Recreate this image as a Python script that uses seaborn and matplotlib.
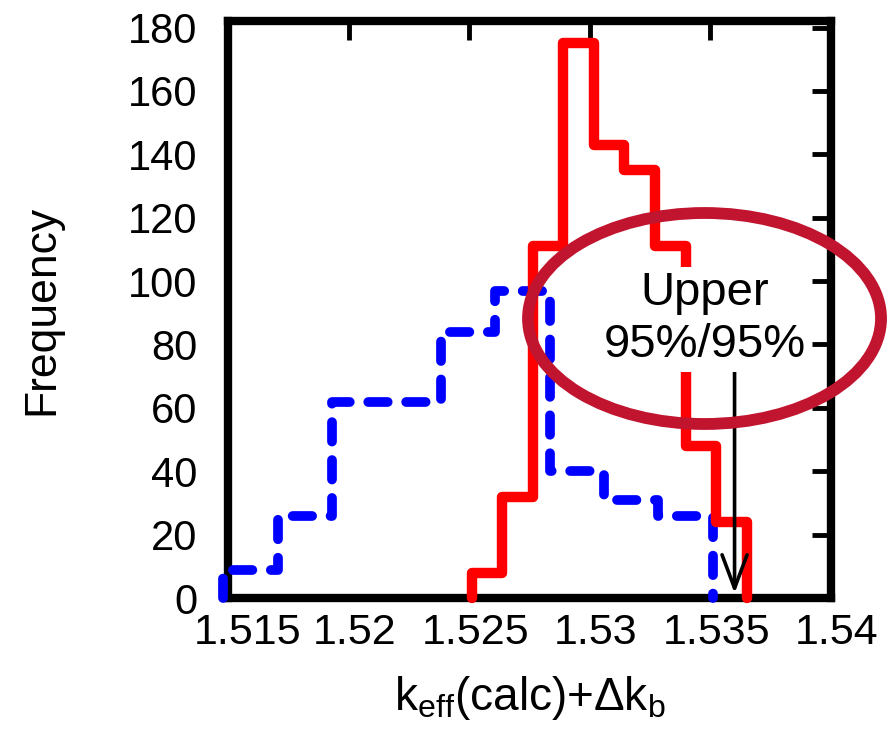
import numpy as np
import pandas as pd
import matplotlib
matplotlib.use("Agg")
import matplotlib.pyplot as plt
import matplotlib.transforms as mtransforms
import seaborn as sns
from matplotlib.patches import Ellipse

# histogram bins
blue_edges = list(np.linspace(1.5148, 1.5351, 10))
blue_counts = [9, 26, 62, 62, 84, 97, 40, 31, 26]

red_edges = list(np.linspace(1.5251, 1.5365, 10))
red_counts = [8, 32, 111, 175, 143, 135, 111, 48, 24]

upper_limit = 1.5360
x_ticks = [1.515, 1.52, 1.525, 1.53, 1.535, 1.54]
x_tick_labels = ["1.515", "1.52", "1.525", "1.53", "1.535", "1.54"]
y_ticks = list(range(0, 181, 20))

sns.set_style("white")
plt.rcParams["font.family"] = ["Liberation Sans", "DejaVu Sans"]
plt.rcParams["mathtext.fontset"] = "custom"
plt.rcParams["mathtext.rm"] = "Liberation Sans"
plt.rcParams["mathtext.it"] = "Liberation Sans"
plt.rcParams["text.color"] = "black"
plt.rcParams["axes.labelcolor"] = "black"


def hist_frame(edges, counts):
    # empty sliver bins at both ends so the outline drops to zero
    e = [edges[0] - 1e-7] + edges + [edges[-1] + 1e-7]
    c = [0] + counts + [0]
    e = np.array(e)
    df = pd.DataFrame({"k": (e[:-1] + e[1:]) / 2, "n": c})
    return df, list(e)


blue_df, blue_bins = hist_frame(blue_edges, blue_counts)
red_df, red_bins = hist_frame(red_edges, red_counts)

fig = plt.figure(figsize=(8.96, 7.32), dpi=100)
ax = fig.add_axes([0.2545, 0.183, 0.673, 0.788])

sns.histplot(data=blue_df, x="k", weights="n", bins=blue_bins, element="step",
             fill=False, color="#0000FF", linewidth=7, linestyle=(0, (2.0, 1.9)),
             dash_capstyle="round", ax=ax, zorder=3, clip_on=False)
sns.histplot(data=red_df, x="k", weights="n", bins=red_bins, element="step",
             fill=False, color="#FF0000", linewidth=7.5, ax=ax, zorder=4,
             clip_on=False)

ax.annotate("", xy=(upper_limit, 1.5), xytext=(upper_limit, 72),
            arrowprops=dict(arrowstyle="->,head_length=2.4,head_width=0.9",
                            color="black", lw=2.6, shrinkA=0, shrinkB=0),
            zorder=5)

ax.text(1.53475, 88, "Upper\n95%/95%", ha="center", va="center",
        fontsize=34, linespacing=1.25, zorder=6, color="black",
        bbox=dict(facecolor="white", edgecolor="none", pad=3))

ring = Ellipse((0.7863, 0.5649), 353 / 896, 211 / 732, transform=fig.transFigure,
               fill=False, edgecolor="#C1142F", linewidth=8.5, zorder=10)
fig.add_artist(ring)

ax.set_xlim(1.515, 1.54)
ax.set_ylim(0, 182)
ax.set_xticks(x_ticks)
ax.set_xticklabels(x_tick_labels)
ax.set_yticks(y_ticks)
ax.tick_params(axis="both", direction="in", length=14, width=3.5,
               top=True, right=True, colors="black")
ax.tick_params(axis="x", pad=11, labelsize=31)
ax.tick_params(axis="y", pad=22, labelsize=30)
for s in ax.spines.values():
    s.set_linewidth(6)
    s.set_color("black")

# the x tick labels sit a little right of their ticks in the original
for i, lab in enumerate(ax.get_xticklabels()):
    dx = 20 if i == 0 else 6
    shift = mtransforms.ScaledTranslation(dx / 100, 0, fig.dpi_scale_trans)
    lab.set_transform(lab.get_transform() + shift)

ax.set_xlabel(r"k$_{\mathrm{eff}}$(calc)+Δk$_{\mathrm{b}}$", fontsize=33, labelpad=15)
ax.set_ylabel("Frequency", fontsize=32)
ax.yaxis.set_label_coords(-0.275, 0.5)

fig.savefig("out.png", dpi=100)
